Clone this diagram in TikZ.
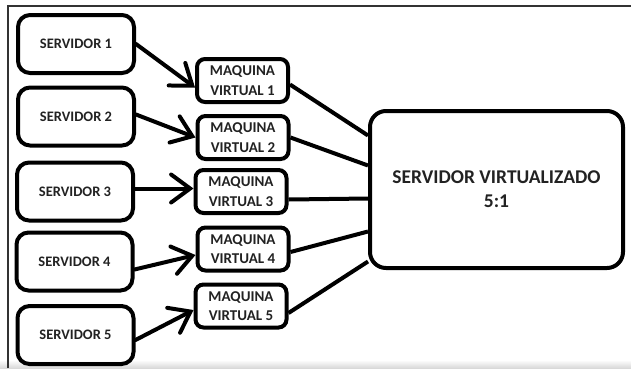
\documentclass[tikz,border=0pt]{standalone}
\usepackage{fontspec}
\setmainfont{Carlito}
\usepackage{xcolor}
\usetikzlibrary{arrows.meta}
\definecolor{BoxLine}{HTML}{000000}
\definecolor{LabelText}{HTML}{222222}
\definecolor{FrameLine}{HTML}{333333}

\begin{document}
\begin{tikzpicture}[
	x=1pt, y=-1pt, % pixel-like units, y going down
	% Style for the physical servers on the left
	server node/.style={
		rectangle,
		draw=BoxLine,
		line width=4pt,
		rounded corners=12pt,
		minimum width=116pt,
		minimum height=58pt,
		inner sep=0pt,
		text=LabelText,
		font=\bfseries\fontsize{14.5}{17}\selectfont
	},
	% Style for the virtual machines in the middle
	vm node/.style={
		rectangle,
		draw=BoxLine,
		line width=4pt,
		rounded corners=8pt,
		minimum width=91pt,
		minimum height=43pt,
		inner sep=0pt,
		align=center,
		text=LabelText,
		font=\bfseries\fontsize{15}{19.5}\selectfont
	},
	% Style for the virtualized host on the right
	host node/.style={
		rectangle,
		draw=BoxLine,
		line width=4pt,
		rounded corners=16pt,
		minimum width=253pt,
		minimum height=157pt,
		inner sep=0pt,
		align=center,
		text=LabelText,
		font=\bfseries\fontsize{19.5}{24}\selectfont
	},
	% Style for the arrows server -> vm
	arrow edge/.style={
		draw=BoxLine,
		line width=4pt,
		line cap=round,
		-{Straight Barb[length=19pt, width=28pt, line cap=round]}
	},
	% Style for the lines vm -> host
	plain edge/.style={
		draw=BoxLine,
		line width=4pt
	}
	]
	
	\useasboundingbox (0,0) rectangle (631,368);
	
	% Frame of the screenshot and the shaded bottom strip
	\shade[top color=white, bottom color=gray!30] (0,360) rectangle (631,368);
	\draw[FrameLine, line width=2pt] (8,368) -- (8,6) -- (631,6);
	
	% 1. Define Node Positions
	% Physical servers
	\node[server node] (srv1) at (76, 44) {SERVIDOR 1};
	\node[server node] (srv2) at (76, 116.5) {SERVIDOR 2};
	\node[server node] (srv3) at (75, 191.5) {SERVIDOR 3};
	\node[server node] (srv4) at (74.5, 261.5) {SERVIDOR 4};
	\node[server node] (srv5) at (75.5, 335) {SERVIDOR 5};
	
	% Virtual machines
	\node[vm node] (vm1) at (242.5, 80.5) {MAQUINA\\VIRTUAL 1};
	\node[vm node] (vm2) at (243, 137.5) {MAQUINA\\VIRTUAL 2};
	\node[vm node] (vm3) at (241, 191.5) {MAQUINA\\VIRTUAL 3};
	\node[vm node] (vm4) at (243, 249) {MAQUINA\\VIRTUAL 4};
	\node[vm node] (vm5) at (241, 306) {MAQUINA\\VIRTUAL 5};
	
	% Virtualized host
	\node[host node] (host) at (496.5, 189.5) {SERVIDOR VIRTUALIZADO\\5:1};
	
	% 2. Draw Edges connecting the nodes
	% Arrows from servers to virtual machines
	\draw[arrow edge] (srv1.east) -- ([yshift=-7pt]vm1.west);
	\draw[arrow edge] ([yshift=2pt]srv2.east) -- (vm2.west);
	\draw[arrow edge] ([yshift=3pt]srv3.east) -- ([yshift=3pt]vm3.west);
	\draw[arrow edge] ([yshift=-8pt]srv4.east) -- ([yshift=-6pt]vm4.west);
	\draw[arrow edge] ([yshift=-5pt]srv5.east) -- ([yshift=-4pt]vm5.west);
	
	% Lines from virtual machines to the host
	\draw[plain edge] ([yshift=-4pt]vm1.east) -- ([yshift=54pt]host.west);
	\draw[plain edge] (vm2.east) -- ([yshift=24pt]host.west);
	\draw[plain edge] ([yshift=-8pt]vm3.east) -- ([yshift=-9pt]host.west);
	\draw[plain edge] ([yshift=-3pt]vm4.east) -- ([yshift=-42pt]host.west);
	\draw[plain edge] ([yshift=-7pt]vm5.east) -- ([yshift=-72pt]host.west);
	
\end{tikzpicture}
\end{document}
